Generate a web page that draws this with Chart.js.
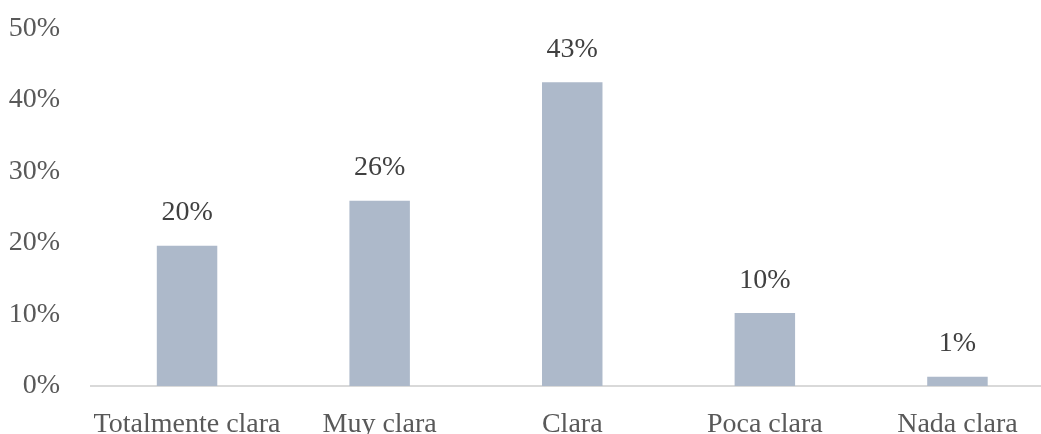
<!DOCTYPE html>
<html>
<head>
<meta charset="utf-8">
<script src="https://cdn.jsdelivr.net/npm/chart.js@4"></script>
<style>
  html, body { margin: 0; padding: 0; background: #fff; overflow: hidden; }
  #wrap { width: 1060px; height: 434px; }
</style>
</head>
<body>
<div id="wrap"><canvas id="myChart"></canvas></div>
<script>
// datos
const categories = ['Totalmente clara', 'Muy clara', 'Clara', 'Poca clara', 'Nada clara'];
const values = [19.6, 25.9, 42.5, 10.2, 1.3];
const yTicks = [0, 10, 20, 30, 40, 50];

const fontFamily = '"Liberation Serif", "Times New Roman", serif';
const fontSize = 28;

// etiquetas de valor encima de cada barra
const valueLabels = {
  id: 'valueLabels',
  afterDatasetsDraw(chart) {
    const ctx = chart.ctx;
    const meta = chart.getDatasetMeta(0);
    ctx.save();
    ctx.font = fontSize + 'px ' + fontFamily;
    ctx.fillStyle = '#404040';
    ctx.textAlign = 'center';
    ctx.textBaseline = 'alphabetic';
    meta.data.forEach((bar, i) => {
      ctx.fillText(Math.round(values[i]) + '%', bar.x, bar.y - 25.5);
    });
    ctx.restore();
  }
};

const ctx = document.getElementById('myChart').getContext('2d');
const chart = new Chart(ctx, {
  type: 'bar',
  data: {
    labels: categories,
    datasets: [{
      data: values,
      backgroundColor: '#ADB9CA',
      borderWidth: 0,
      categoryPercentage: 1,
      barPercentage: 0.314
    }]
  },
  options: {
    responsive: true,
    maintainAspectRatio: false,
    animation: false,
    layout: { padding: { top: 28.5, left: 0, right: 6.25, bottom: 0 } },
    plugins: { legend: { display: false }, tooltip: { enabled: false } },
    scales: {
      x: {
        grid: { display: false, drawTicks: false },
        border: { display: true, color: '#D9D9D9', width: 2 },
        ticks: {
          color: '#595959',
          font: { family: fontFamily, size: fontSize },
          padding: 22,
          maxRotation: 0,
          autoSkip: false
        },
        afterFit(scale) {
          scale.height = 48;
          scale.paddingLeft = 0;
          scale.paddingRight = 0;
        }
      },
      y: {
        min: 0,
        max: 50,
        afterBuildTicks(scale) { scale.ticks = yTicks.map(v => ({ value: v })); },
        grid: { display: false, drawTicks: false },
        border: { display: false },
        ticks: {
          color: '#595959',
          font: { family: fontFamily, size: fontSize },
          padding: 30.75,
          callback: v => v + '%'
        },
        afterFit(scale) {
          scale.width = 90.75;
          scale.paddingTop = 0;
          scale.paddingBottom = 0;
        }
      }
    }
  },
  plugins: [valueLabels]
});
</script>
</body>
</html>
